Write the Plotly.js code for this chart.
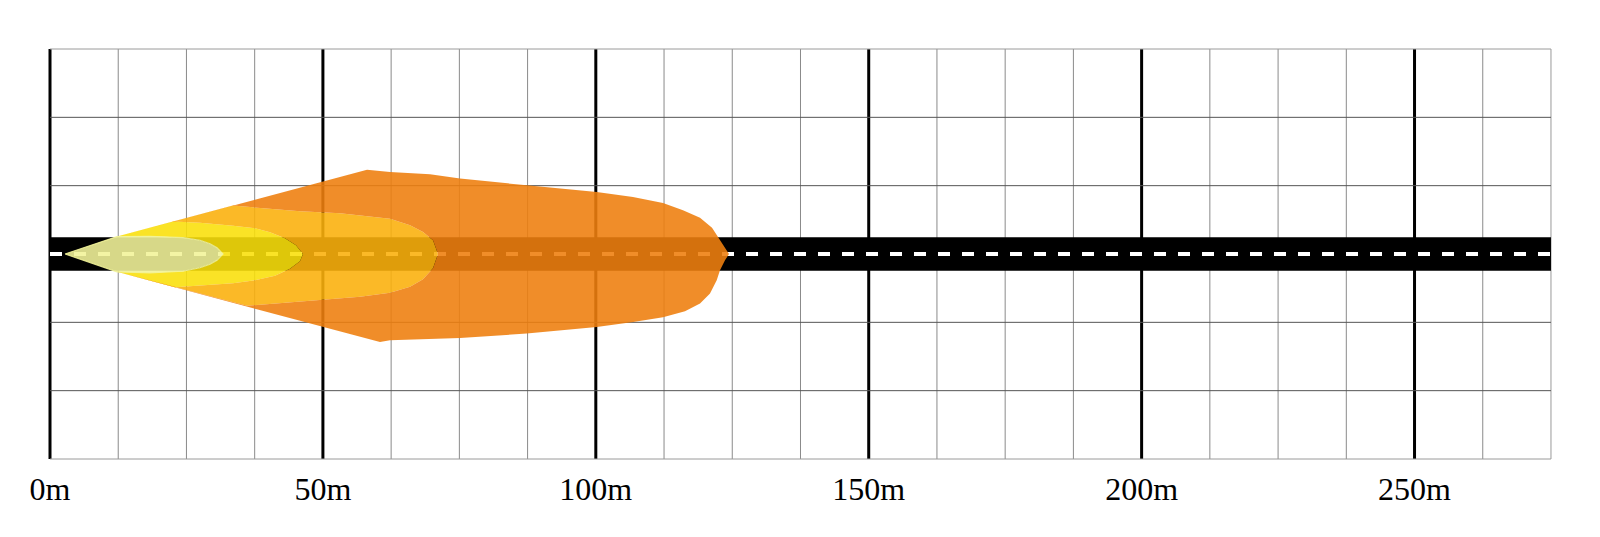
<!DOCTYPE html>
<html>
<head>
<meta charset="utf-8">
<script src="https://cdn.plot.ly/plotly-3.0.1.min.js"></script>
<style>html,body{margin:0;padding:0;background:#fff}#chart{width:1600px;height:537px}</style>
</head>
<body>
<div id="chart"></div>
<script>
// Tick labels (distance in metres)
const xTickVals = [0, 50, 100, 150, 200, 250];
const xTickText = ['0m', '50m', '100m', '150m', '200m', '250m'];

// Beam outlines (x: distance m, y: lateral m), innermost first
const paleX = [2.75, 12.27, 18.32, 24.37, 27.48, 29.31, 30.6, 31.7, 30.6, 29.31, 27.48, 24.37, 18.32, 12.27, 2.75];
const paleY = [0, 3.18, 3.24, 3.0, 2.51, 1.87, 1.13, 0, -1.15, -1.88, -2.52, -3.16, -3.44, -3.26, 0];

const yellowX = [2.75, 12.27, 22.53, 27.48, 33.53, 37.56, 40.31, 43.05, 45.07, 46.35, 45.8, 43.97, 41.22, 37.56, 33.53, 27.48, 22.9, 12.27, 2.75];
const yellowY = [0, 3.18, 5.93, 5.71, 5.16, 4.70, 3.97, 2.87, 1.59, 0, -1.34, -2.71, -3.99, -4.81, -5.36, -5.82, -6.09, -3.26, 0];

const amberX = [2.75, 12.27, 33.53, 38.47, 45.8, 53.13, 58.63, 62.29, 65.96, 68.34, 70.17, 71.09, 70.17, 68.34, 65.96, 62.29, 56.8, 51.85, 45.8, 40.31, 36.09, 12.27, 2.75];
const amberY = [0, 3.18, 8.85, 8.45, 7.81, 7.45, 6.90, 6.44, 5.25, 4.02, 2.51, 0, -2.62, -4.63, -6.0, -7.10, -7.83, -8.2, -8.65, -9.11, -9.48, -3.26, 0];

const orangeX = [2.75, 12.27, 58.08, 62.29, 69.62, 75.12, 87.34, 100.16, 106.81, 112.31, 115.97, 119.09, 121.29, 122.38, 123.67, 124.4, 123.67, 122.75, 122.15, 120.92, 119.09, 116.34, 112.31, 106.87, 100.16, 87.34, 75.12, 62.29, 60.46, 12.27, 2.75];
const orangeY = [0, 3.18, 15.42, 15.0, 14.58, 13.79, 12.57, 11.34, 10.43, 9.33, 7.99, 6.62, 4.79, 3.11, 1.28, 0, -1.15, -2.98, -4.81, -7.24, -9.07, -10.48, -11.58, -12.44, -13.35, -14.56, -15.37, -15.79, -16.1, -3.26, 0];

// Road
const roadHalfWidth = 3.05;
const roadEnd = 275;

// Layout constants
const xMax = 275, yMax = 37.5, minorStep = 12.5, majorStep = 50;

const shapes = [];
// vertical grid
for (let i = 0; i * minorStep <= xMax + 1e-9; i++) {
  const x = i * minorStep;
  const major = Math.abs(x % majorStep) < 1e-9;
  shapes.push({type: 'line', layer: 'below', xref: 'x', yref: 'y', x0: x, x1: x, y0: -yMax, y1: yMax,
    line: {color: major ? '#000000' : (x >= xMax ? '#9a9a9a' : '#8a8a8a'), width: major ? 3 : 1}});
}
// horizontal grid
for (let y = -yMax; y <= yMax + 1e-9; y += minorStep) {
  const edge = Math.abs(Math.abs(y) - yMax) < 1e-9;
  shapes.push({type: 'line', layer: 'below', xref: 'x', yref: 'y', x0: 0, x1: xMax, y0: y, y1: y,
    line: {color: edge ? '#9a9a9a' : '#555555', width: 1}});
}
// road band and centre dashes
shapes.push({type: 'rect', layer: 'below', xref: 'x', yref: 'y', x0: 0, x1: roadEnd, y0: -roadHalfWidth, y1: roadHalfWidth,
  fillcolor: '#000000', line: {width: 0}});
shapes.push({type: 'line', layer: 'below', xref: 'x', yref: 'y', x0: 0, x1: roadEnd, y0: 0, y1: 0,
  line: {color: '#ffffff', width: 4, dash: '12px,12px'}});

const alpha = 0.89;
const beamColors = [
  `rgba(242,243,153,${alpha})`,
  `rgba(249,224,11,${alpha})`,
  `rgba(250,176,12,${alpha})`,
  `rgba(238,127,15,${alpha})`
];
const traces = [
  {x: paleX, y: paleY, type: 'scatter', mode: 'lines', line: {width: 1.2, color: beamColors[0]}, fill: 'toself',
   fillcolor: beamColors[0], hoverinfo: 'skip'},
  {x: yellowX, y: yellowY, type: 'scatter', mode: 'lines', line: {width: 0}, fill: 'tonext',
   fillcolor: beamColors[1], hoverinfo: 'skip'},
  {x: amberX, y: amberY, type: 'scatter', mode: 'lines', line: {width: 0}, fill: 'tonext',
   fillcolor: beamColors[2], hoverinfo: 'skip'},
  {x: orangeX, y: orangeY, type: 'scatter', mode: 'lines', line: {width: 0}, fill: 'tonext',
   fillcolor: beamColors[3], hoverinfo: 'skip'}
];

const layout = {
  width: 1600, height: 537,
  margin: {l: 47, r: 47, t: 47, b: 76, pad: 0},
  paper_bgcolor: '#ffffff', plot_bgcolor: '#ffffff',
  showlegend: false,
  xaxis: {range: [-0.55, 275.37], tickmode: 'array', tickvals: xTickVals, ticktext: xTickText,
    showgrid: false, zeroline: false, showline: false, ticks: '', ticklabelstandoff: 6,
    tickfont: {family: 'Liberation Serif, Times New Roman, serif', size: 32, color: '#000000'},
    fixedrange: true},
  yaxis: {range: [-37.866, 37.866], showticklabels: false, showgrid: false, zeroline: false,
    showline: false, ticks: '', fixedrange: true},
  shapes: shapes
};

Plotly.newPlot('chart', traces, layout, {displayModeBar: false, staticPlot: true});
</script>
</body>
</html>
